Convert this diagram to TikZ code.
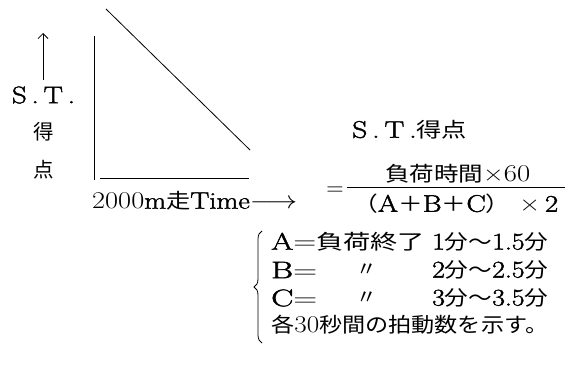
\documentclass[tikz,border=0pt]{standalone}
\usepackage{fontspec}
\usepackage{graphicx}
\usetikzlibrary{decorations.pathreplacing,arrows.meta}
\setmainfont{Latin Modern Roman}[FakeBold=1.6]
\newfontfamily\lmthin{Latin Modern Roman}
\newfontfamily\jp{Noto Sans CJK JP}
\newcommand\J[1]{{\jp\fontsize{20.5}{24}\selectfont #1}}
\newcommand\W[2]{\resizebox{#1pt}{\height}{#2}}
\begin{document}
\begin{tikzpicture}[x=1pt,y=-1pt,
  txt/.style={inner sep=0pt, font=\fontsize{24}{28}\selectfont},
  ln/.style={line width=0.8pt}]
\useasboundingbox (0,0) rectangle (572,380);
% graph
\coordinate (d1) at (106,9); \coordinate (d2) at (250,150);
\draw[ln] (d1) -- (d2);
\coordinate (vt) at (94,36); \coordinate (vb) at (94,180);
\draw[ln] (vt) -- (vb);
\coordinate (hl) at (100,178); \coordinate (hr) at (249,178);
\draw[ln] (hl) -- (hr);
\coordinate (ab) at (43,80); \coordinate (at) at (43,33);
\draw[ln,-{Straight Barb[length=5pt,width=10pt]}] (ab) -- (at);
% axis labels
\node[txt] (st) at (43.5,95) {\W{63}{S\,.\,T\,.}};
\node[txt] (toku) at (44,132) {\J{得}};
\node[txt] (ten) at (44,170) {\J{点}};
\node[txt,anchor=west] (xlab) at (92,201) {\W{205}{{\lmthin 2000}m\J{走}Time$\longrightarrow$}};
% formula
\node[txt,anchor=west] (title) at (352,130) {\W{115}{S\,.\,T\,.\J{得点}}};
\node[txt] (eq) at (335,191) {\lmthin =};
\node[txt,anchor=west] (num) at (385,174) {\W{145}{\J{負荷時間}{\lmthin ×60}}};
\coordinate (fl) at (347,187); \coordinate (fr) at (565,187);
\draw[ln] (fl) -- (fr);
\node[txt,anchor=west] (den) at (353,204) {\W{205}{\J{（}A\J{＋}B\J{＋}C\J{）}\ {\lmthin ×}\,2}};
% brace
\coordinate (bb) at (262,343); \coordinate (bt) at (262,231);
\draw[ln, decorate, decoration={brace,amplitude=8pt}] (bb) -- (bt);
% lines
\node[txt,anchor=west] (l1a) at (271,242) {\W{154}{A{\lmthin =}\J{負荷終了}}};
\node[txt,anchor=west] (l1b) at (432,242) {\W{116}{1\J{分}\J{〜}1.5\J{分}}};
\node[txt,anchor=west] (l2a) at (271,270) {\W{46}{B{\lmthin =}}};
\node[txt] (l2b) at (367,270) {\J{〃}};
\node[txt,anchor=west] (l2c) at (432,270) {\W{116}{2\J{分}\J{〜}2.5\J{分}}};
\node[txt,anchor=west] (l3a) at (271,298) {\W{46}{C{\lmthin =}}};
\node[txt] (l3b) at (367,298) {\J{〃}};
\node[txt,anchor=west] (l3c) at (432,298) {\W{116}{3\J{分}\J{〜}3.5\J{分}}};
\node[txt,anchor=west] (l4) at (271,325) {\W{277}{\J{各}{\lmthin 30}\J{秒間の拍動数を示す。}}};
\end{tikzpicture}
\end{document}
